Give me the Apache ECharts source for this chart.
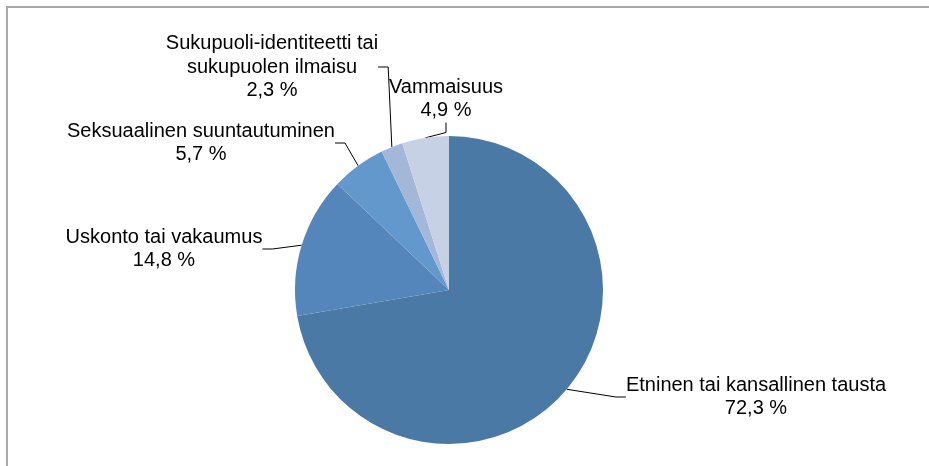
<!DOCTYPE html>
<html>
<head>
<meta charset="utf-8">
<style>
html,body{margin:0;padding:0;background:#fff;}
#c{width:929px;height:466px;}
</style>
<script src="https://cdn.jsdelivr.net/npm/echarts@6/dist/echarts.min.js"></script>
</head>
<body>
<div id="c"></div>
<script>
const categories = ['Etninen tai kansallinen tausta', 'Uskonto tai vakaumus', 'Seksuaalinen suuntautuminen', 'Sukupuoli-identiteetti tai\nsukupuolen ilmaisu', 'Vammaisuus'];
const values = [72.3, 14.8, 5.7, 2.3, 4.9];
const colors = ['#4a79a5', '#5586bb', '#6398cc', '#a3b8d8', '#c6d1e6'];

const labelPos = [[756, 397], [164, 249], [201, 143], [272, 67], [446, 99]];

const chart = echarts.init(document.getElementById('c'));
chart.setOption({
  animation: false,
  graphic: [{
    type: 'rect', silent: true, z: -1,
    shape: {x: 7, y: 7, width: 1000, height: 1000},
    style: {fill: 'none', stroke: '#a8a8a8', lineWidth: 2}
  }],
  series: [{
    type: 'pie',
    center: [449, 290],
    radius: 154,
    startAngle: 90,
    clockwise: true,
    data: categories.map((n, i) => ({name: n, value: values[i], itemStyle: {color: colors[i]}})),
    label: {
      show: true,
      formatter: p => p.name + '\n' + p.value.toFixed(1).replace('.', ',') + ' %',
      fontFamily: 'Liberation Sans, Arial, sans-serif',
      fontSize: 20,
      lineHeight: 23.5,
      color: '#000',
      align: 'center',
      overflow: 'none'
    },
    labelLine: {show: true, length: 15, length2: 10, lineStyle: {color: '#000', width: 1}},
    labelLayout: p => ({x: labelPos[p.dataIndex][0], y: labelPos[p.dataIndex][1], align: 'center', verticalAlign: 'middle'})
  }]
});
</script>
</body>
</html>
